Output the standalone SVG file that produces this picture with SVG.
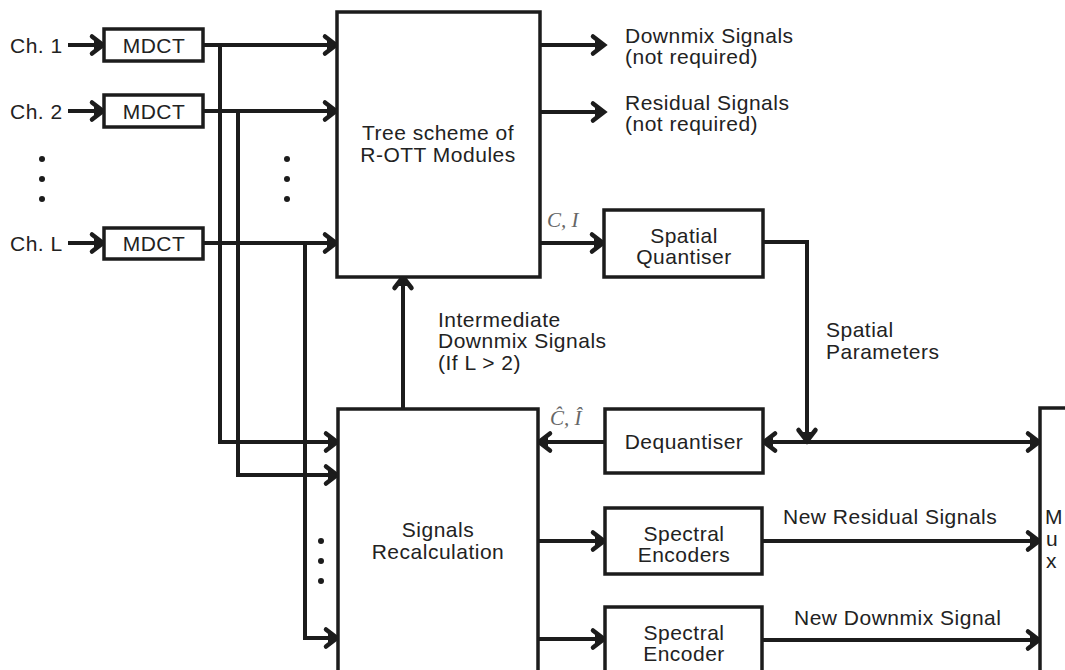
<svg xmlns="http://www.w3.org/2000/svg" width="1065" height="670" viewBox="0 0 1065 670">
<style>
.box{fill:#fff;stroke:#1c1c1c;stroke-width:3.5}
.ln{fill:none;stroke:#1c1c1c;stroke-width:4;stroke-linejoin:miter}
.arr{marker-end:url(#ah)}
text{font-family:"Liberation Sans",Arial,sans-serif;font-size:21px;letter-spacing:0.5px;fill:#222}
.c{text-anchor:middle}
.m{font-family:"Liberation Serif","Times New Roman",serif;font-style:italic;fill:#666;letter-spacing:0}
.dot{fill:#1c1c1c}
</style>
<defs>
<marker id="ah" markerUnits="userSpaceOnUse" markerWidth="24" markerHeight="24" refX="16" refY="12" orient="auto" overflow="visible">
<path d="M5,3.5 L16,12 L5,20.5" fill="none" stroke="#1c1c1c" stroke-width="4.5" stroke-linecap="round" stroke-linejoin="miter"/>
<path d="M7,7.5 L16,12 L7,16.5 Z" fill="#1c1c1c"/>
</marker>
</defs>

<g id="connectors">
<line class="ln arr" x1="68" y1="45" x2="103" y2="45"/>
<line class="ln arr" x1="68" y1="111" x2="103" y2="111"/>
<line class="ln arr" x1="68" y1="243" x2="103" y2="243"/>
<line class="ln arr" x1="203" y1="45" x2="336" y2="45"/>
<line class="ln arr" x1="203" y1="111" x2="336" y2="111"/>
<line class="ln arr" x1="203" y1="243" x2="336" y2="243"/>
<polyline class="ln arr" points="220,45 220,442 337,442"/>
<polyline class="ln arr" points="238,111 238,475 337,475"/>
<polyline class="ln arr" points="305,243 305,638 337,638"/>
<line class="ln arr" x1="540" y1="45" x2="604" y2="45"/>
<line class="ln arr" x1="540" y1="112" x2="604" y2="112"/>
<line class="ln arr" x1="540" y1="243" x2="603" y2="243"/>
<line class="ln arr" x1="403" y1="409" x2="403" y2="277"/>
<polyline class="ln arr" points="763,242 807,242 807,441"/>
<line class="ln" x1="770" y1="442" x2="1035" y2="442"/>
<line class="ln arr" x1="800" y1="442" x2="764" y2="442"/>
<line class="ln arr" x1="900" y1="442" x2="1039" y2="442"/>
<line class="ln arr" x1="605" y1="442" x2="539" y2="442"/>
<line class="ln arr" x1="538" y1="541" x2="604" y2="541"/>
<line class="ln arr" x1="538" y1="639" x2="604" y2="639"/>
<line class="ln arr" x1="762" y1="541" x2="1039" y2="541"/>
<line class="ln arr" x1="762" y1="640" x2="1039" y2="640"/>
</g>

<g id="labels">
<text x="10" y="53">Ch. 1</text>
<text x="10" y="119">Ch. 2</text>
<text x="10" y="251">Ch. L</text>
<circle class="dot" cx="42" cy="159" r="3"/>
<circle class="dot" cx="42" cy="179" r="3"/>
<circle class="dot" cx="42" cy="199" r="3"/>
<circle class="dot" cx="287" cy="159" r="3"/>
<circle class="dot" cx="287" cy="179" r="3"/>
<circle class="dot" cx="287" cy="199" r="3"/>
<circle class="dot" cx="321" cy="541" r="3"/>
<circle class="dot" cx="321" cy="561" r="3"/>
<circle class="dot" cx="321" cy="581" r="3"/>
<text x="625" y="43">Downmix Signals</text>
<text x="625" y="64">(not required)</text>
<text x="625" y="110">Residual Signals</text>
<text x="625" y="131">(not required)</text>
<text class="m" x="547" y="227">C, I</text>
<text class="m" x="550" y="425">Ĉ, Î</text>
<text x="438" y="327">Intermediate</text>
<text x="438" y="348">Downmix Signals</text>
<text x="438" y="370">(If L &gt; 2)</text>
<text x="826" y="337">Spatial</text>
<text x="826" y="359">Parameters</text>
<text x="783" y="524">New Residual Signals</text>
<text x="794" y="625">New Downmix Signal</text>
</g>

<g id="mdct1"><rect class="box" x="104" y="29" width="99" height="32"/><text class="c" x="154" y="53">MDCT</text></g>
<g id="mdct2"><rect class="box" x="104" y="95" width="99" height="32"/><text class="c" x="154" y="119">MDCT</text></g>
<g id="mdctL"><rect class="box" x="104" y="228" width="99" height="31"/><text class="c" x="154" y="251">MDCT</text></g>

<g id="tree"><rect class="box" x="337" y="12" width="203" height="265"/>
<text class="c" x="438" y="140">Tree scheme of</text><text class="c" x="438" y="162">R-OTT Modules</text></g>

<g id="quantiser"><rect class="box" x="604" y="210" width="159" height="67"/>
<text class="c" x="684" y="243">Spatial</text><text class="c" x="684" y="264">Quantiser</text></g>

<g id="dequantiser"><rect class="box" x="605" y="409" width="158" height="64"/>
<text class="c" x="684" y="449">Dequantiser</text></g>

<g id="recalc"><rect class="box" x="338" y="409" width="200" height="280"/>
<text class="c" x="438" y="537">Signals</text><text class="c" x="438" y="559">Recalculation</text></g>

<g id="encoders"><rect class="box" x="605" y="508" width="157" height="66"/>
<text class="c" x="684" y="541">Spectral</text><text class="c" x="684" y="562">Encoders</text></g>

<g id="encoder"><rect class="box" x="605" y="607" width="157" height="80"/>
<text class="c" x="684" y="640">Spectral</text><text class="c" x="684" y="661">Encoder</text></g>

<g id="mux"><rect class="box" x="1040" y="408" width="40" height="280"/>
<text x="1045" y="524">M</text><text x="1046" y="546">u</text><text x="1046" y="568">x</text></g>
</svg>
